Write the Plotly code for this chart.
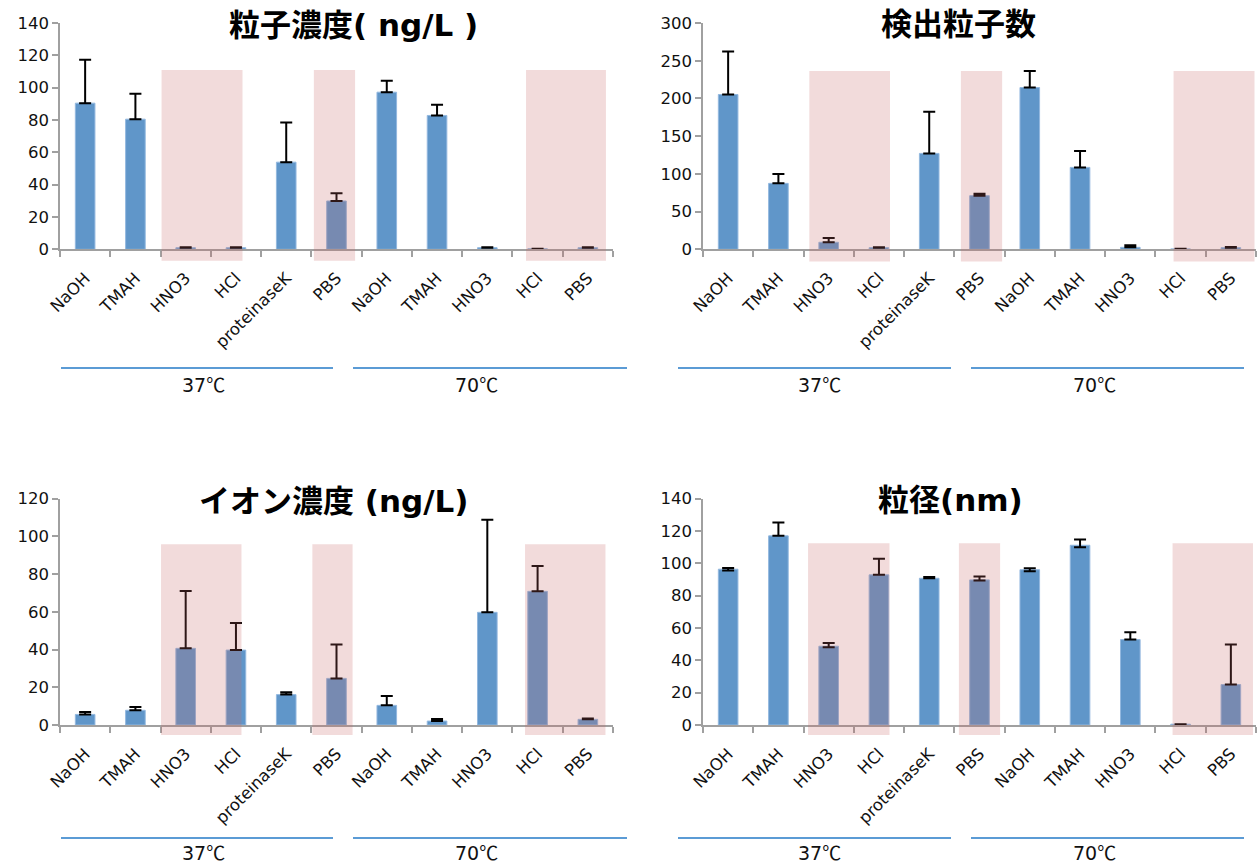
import plotly.graph_objects as go

# ---------------- data ----------------
categories = ["NaOH", "TMAH", "HNO3", "HCl", "proteinaseK", "PBS",
              "NaOH", "TMAH", "HNO3", "HCl", "PBS"]
group_labels = ["37", "70"]
group_unit = "℃"

titles = ["粒子濃度( ng/L )", "検出粒子数", "イオン濃度 (ng/L)", "粒径(nm)"]

particle_conc = [90.4, 80.5, 1.0, 1.0, 53.9, 29.9, 97.2, 82.8, 1.0, 0.3, 1.0]
particle_conc_err = [26.8, 15.7, 0.3, 0.3, 24.5, 4.8, 7.0, 6.6, 0.3, 0.1, 0.3]
particle_conc_err_minus = [0, 0, 0, 0, 0, 0, 0, 0, 0, 0, 0]

particle_count = [205.2, 87.4, 9.3, 2.2, 127.1, 71.1, 214.5, 108.6, 2.6, 0.5, 2.2]
particle_count_err = [56.9, 12.3, 5.7, 0.5, 55.2, 2.6, 22.0, 21.6, 2.7, 0.3, 0.9]
particle_count_err_minus = [0, 0, 0, 0, 0, 0, 0, 0, 0, 0, 0]

ion_conc = [5.6, 7.8, 40.6, 39.7, 16.1, 24.7, 10.4, 2.1, 59.7, 70.8, 3.0]
ion_conc_err = [1.3, 1.7, 30.4, 14.3, 1.2, 18.0, 5.0, 1.1, 49.0, 13.4, 0.4]
ion_conc_err_minus = [0, 0, 0, 0, 0, 0, 0, 0, 0, 0, 0]

diameter = [96.3, 116.9, 48.7, 92.8, 90.7, 89.7, 96.0, 111.1, 52.8, 0.5, 25.0]
diameter_err = [0.8, 8.3, 2.0, 9.9, 0.8, 2.1, 0.9, 3.5, 4.5, 0.0, 24.8]
diameter_err_minus = [0.8, 0, 0.6, 0, 0, 0.4, 0.9, 1.2, 0, 0, 0]

y_max = [140, 300, 120, 140]
y_step = [20, 50, 20, 20]

# ---------------- layout helpers ----------------
W, H = 1259, 866
def px(x):
    return x / W
def py(y):
    return 1 - y / H

BAR = "#6096C9"
PINK = "rgba(200,100,100,0.23)"
AXIS = "#A0A0A0"
FONT = "DejaVu Sans, Noto Sans CJK JP"
TFONT = "DejaVu Sans, Noto Sans CJK JP"

panels = [
    dict(vals=particle_conc, err=particle_conc_err, errm=particle_conc_err_minus,
         xd=(60, 613), yd=(23, 249.3),
         pinks=[(1.52, 3.13), (4.55, 5.37), (8.77, 10.36)], pink_y=(-0.051, 0.792),
         title_xy=(353, 25),
         lines=[(61, 333), (353, 627)], lab_x=[203, 476], line_y=368, lab_y=383),
    dict(vals=particle_count, err=particle_count_err, errm=particle_count_err_minus,
         xd=(703, 1256), yd=(23, 249.3),
         pinks=[(1.615, 3.22), (4.63, 5.45), (8.86, 10.47)], pink_y=(-0.054, 0.788),
         title_xy=(958, 24),
         lines=[(678, 951), (971, 1244)], lab_x=[819, 1094], line_y=368, lab_y=383),
    dict(vals=ion_conc, err=ion_conc_err, errm=ion_conc_err_minus,
         xd=(60, 613), yd=(498.5, 725),
         pinks=[(1.51, 3.11), (4.52, 5.32), (8.75, 10.35)], pink_y=(-0.044, 0.798),
         title_xy=(333, 501),
         lines=[(61, 333), (353, 627)], lab_x=[203, 476], line_y=838, lab_y=851),
    dict(vals=diameter, err=diameter_err, errm=diameter_err_minus,
         xd=(703, 1256), yd=(498.5, 725),
         pinks=[(1.59, 3.21), (4.59, 5.41), (8.84, 10.44)], pink_y=(-0.044, 0.802),
         title_xy=(951, 500),
         lines=[(678, 951), (971, 1244)], lab_x=[819, 1094], line_y=838, lab_y=851),
]

fig = go.Figure()
shapes = []
annotations = []
xpos = list(range(len(categories)))

for i, p in enumerate(panels):
    n = "" if i == 0 else str(i + 1)
    xa, ya = "x" + n, "y" + n
    fig.add_trace(go.Bar(
        x=xpos, y=p["vals"], xaxis=xa, yaxis=ya, width=0.39,
        marker=dict(color=BAR, line=dict(color="#93B8DF", width=1)),
        error_y=dict(type="data", array=p["err"], arrayminus=p["errm"],
                     symmetric=False, color="black", thickness=2, width=6),
        showlegend=False, hoverinfo="skip"))
    fig.update_layout(**{
        "xaxis" + n: dict(
            domain=[px(p["xd"][0]), px(p["xd"][1])], anchor=ya, automargin=False,
            range=[-0.5, len(categories) - 0.5], tickmode="array",
            tickvals=xpos, ticktext=categories, tickangle=-45, ticks="",
            showline=True, linecolor=AXIS, linewidth=1.5, showgrid=False,
            zeroline=False, fixedrange=True, ticklabelstandoff=11,
            tickfont=dict(family=FONT, size=16.5, color="#111111"),
            minor=dict(tickmode="array",
                       tickvals=[k - 0.5 for k in range(len(categories) + 1)],
                       ticks="outside", ticklen=6, tickcolor=AXIS, tickwidth=1.5,
                       showgrid=False)),
        "yaxis" + n: dict(
            domain=[py(p["yd"][1]), py(p["yd"][0])], anchor=xa, automargin=False,
            range=[0, y_max[i]], dtick=y_step[i], tick0=0,
            ticks="outside", ticklen=6, tickcolor=AXIS, tickwidth=1.5,
            showline=True, linecolor=AXIS, linewidth=1.5, showgrid=False,
            zeroline=False, fixedrange=True,
            tickfont=dict(family=FONT, size=16.5, color="#111111")),
    })
    for (x0, x1) in p["pinks"]:
        shapes.append(dict(type="rect", xref=xa, yref=ya + " domain",
                           x0=x0, x1=x1, y0=p["pink_y"][0], y1=p["pink_y"][1],
                           fillcolor=PINK, line=dict(width=0), layer="above"))
    for (x0, x1), lx, lab in zip(p["lines"], p["lab_x"], group_labels):
        shapes.append(dict(type="line", xref="paper", yref="paper",
                           x0=px(x0), x1=px(x1), y0=py(p["line_y"]), y1=py(p["line_y"]),
                           line=dict(color="#5B9BD5", width=2)))
        annotations.append(dict(
            text=lab + '<span style="font-family:\'Noto Sans CJK JP\'">' + group_unit + "</span>",
            xref="paper", yref="paper", x=px(lx), y=py(p["lab_y"]), showarrow=False,
            xanchor="center", yanchor="middle",
            font=dict(family=FONT, size=19, color="#111111")))
    annotations.append(dict(text="<b>" + titles[i] + "</b>", xref="paper", yref="paper",
                            x=px(p["title_xy"][0]), y=py(p["title_xy"][1]),
                            showarrow=False, xanchor="center", yanchor="middle",
                            font=dict(family=TFONT, size=31, color="black")))

fig.update_layout(width=W, height=H, margin=dict(l=0, r=0, t=0, b=0, autoexpand=False),
                  paper_bgcolor="white", plot_bgcolor="rgba(0,0,0,0)",
                  shapes=shapes, annotations=annotations)

fig.write_html("out.html", config={"displayModeBar": False},
               post_script="document.body.style.margin='0';document.body.style.overflow='hidden';")
